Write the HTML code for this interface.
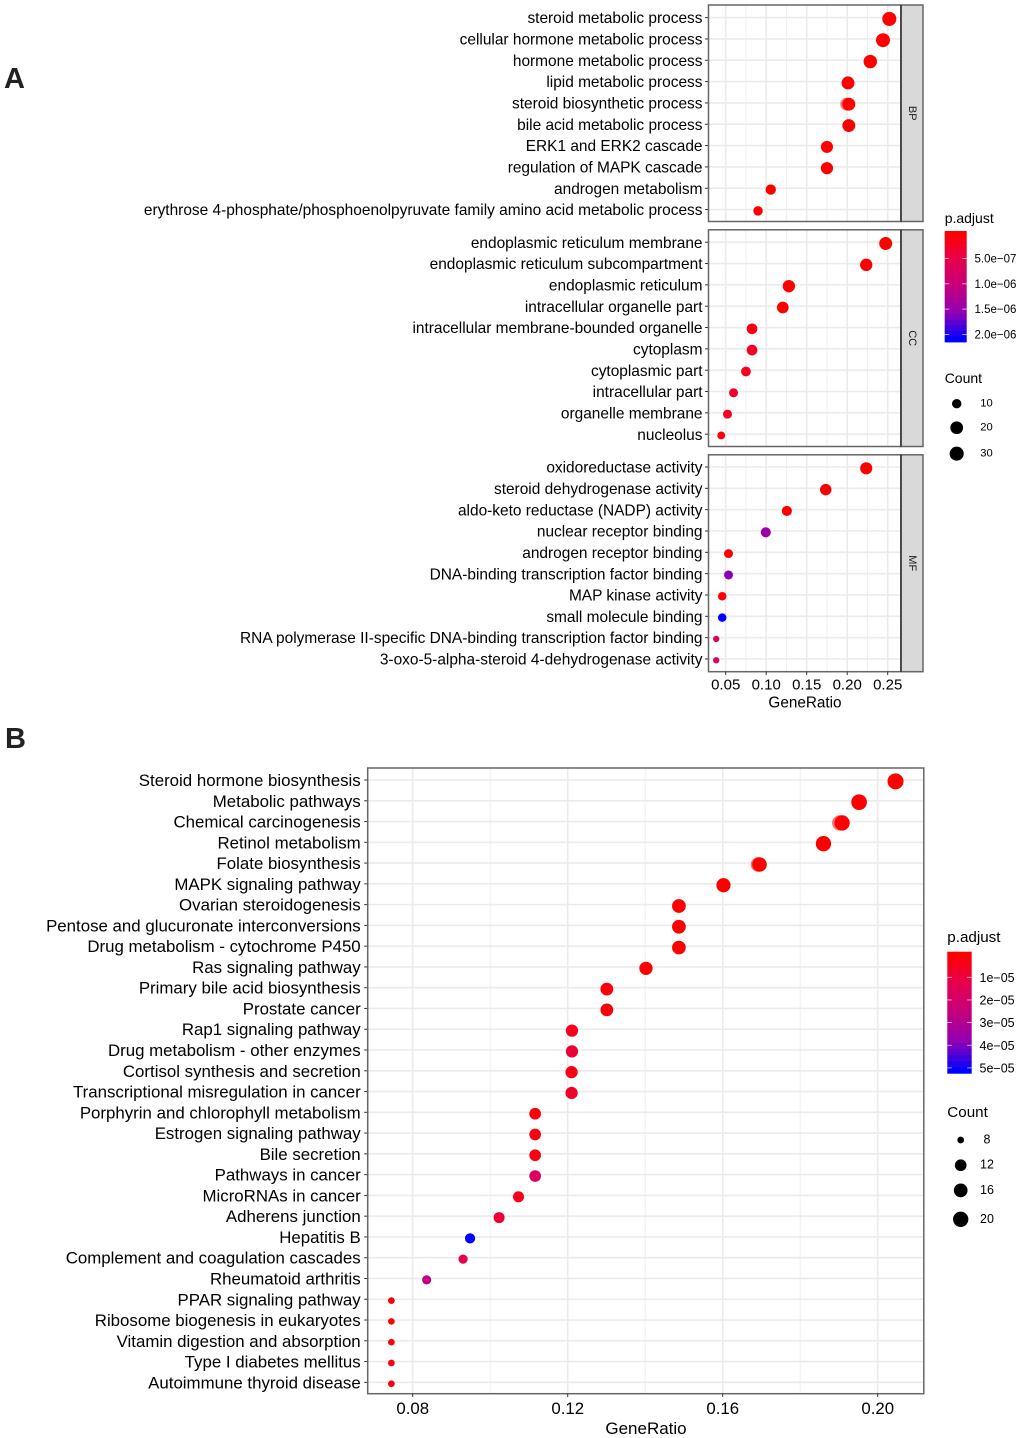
<!DOCTYPE html>
<html lang="en">
<head>
<meta charset="utf-8">
<title>GO and KEGG enrichment dot plots</title>
<style>
html,body{margin:0;padding:0;background:#fff}
svg{display:block;font-family:"Liberation Sans",Arial,sans-serif}
</style>
</head>
<body>
<svg id="figure" xmlns="http://www.w3.org/2000/svg" width="1020" height="1438" viewBox="0 0 1020 1438">
<text x="4" y="88" font-size="29" font-weight="bold" fill="#222">A</text>
<text x="5" y="748" font-size="29" font-weight="bold" fill="#222">B</text>
</svg>
<script>
// ---- Panel A data ----
const bpTerms = ["steroid metabolic process","cellular hormone metabolic process","hormone metabolic process","lipid metabolic process","steroid biosynthetic process","bile acid metabolic process","ERK1 and ERK2 cascade","regulation of MAPK cascade","androgen metabolism","erythrose 4-phosphate/phosphoenolpyruvate family amino acid metabolic process"];
const bpRatio = [0.252,0.2442,0.2285,0.201,0.202,0.202,0.175,0.175,0.1056,0.0899];
const bpCount = [30,29,26,23,23,23,19,19,12,9];
const bpPadj = [0,0,0,0,0,0,0,0,0,0];
const bpEcho = [null,null,null,null,0.1994,null,null,null,null,null];

const ccTerms = ["endoplasmic reticulum membrane","endoplasmic reticulum subcompartment","endoplasmic reticulum","intracellular organelle part","intracellular membrane-bounded organelle","cytoplasm","cytoplasmic part","intracellular part","organelle membrane","nucleolus"];
const ccRatio = [0.2475,0.2235,0.128,0.1205,0.0825,0.0825,0.075,0.0597,0.0522,0.0445];
const ccCount = [23,20,20,17,13,13,10,8,8,6];
const ccPadj = [0,0,0,0,1e-7,2.5e-7,2e-7,3e-7,2.5e-7,1e-7];
const ccEcho = [null,null,null,null,null,null,null,null,null,null];

const mfTerms = ["oxidoreductase activity","steroid dehydrogenase activity","aldo-keto reductase (NADP) activity","nuclear receptor binding","androgen receptor binding","DNA-binding transcription factor binding","MAP kinase activity","small molecule binding","RNA polymerase II-specific DNA-binding transcription factor binding","3-oxo-5-alpha-steroid 4-dehydrogenase activity"];
const mfRatio = [0.2235,0.1735,0.1255,0.0995,0.0535,0.0535,0.0457,0.0457,0.0383,0.0383];
const mfCount = [19,16,11,11,8,8,7,7,5,5];
const mfPadj = [0,0,0,1.5e-6,1e-8,1.65e-6,1e-8,2.15e-6,6.4e-7,8e-7];
const mfEcho = [null,null,null,null,null,null,null,null,null,null];

const aXTicks = [0.05,0.10,0.15,0.20,0.25];
const aXMinor = [0.075,0.125,0.175,0.225];
const aColorTicks = [5e-7,1e-6,1.5e-6,2e-6];
const aColorLabels = ["5.0e\u221207","1.0e\u221206","1.5e\u221206","2.0e\u221206"];
const aSizeTicks = [10,20,30];

// ---- Panel B data ----
const keggTerms = ["Steroid hormone biosynthesis","Metabolic pathways","Chemical carcinogenesis","Retinol metabolism","Folate biosynthesis","MAPK signaling pathway","Ovarian steroidogenesis","Pentose and glucuronate interconversions","Drug metabolism - cytochrome P450","Ras signaling pathway","Primary bile acid biosynthesis","Prostate cancer","Rap1 signaling pathway","Drug metabolism - other enzymes","Cortisol synthesis and secretion","Transcriptional misregulation in cancer","Porphyrin and chlorophyll metabolism","Estrogen signaling pathway","Bile secretion","Pathways in cancer","MicroRNAs in cancer","Adherens junction","Hepatitis B","Complement and coagulation cascades","Rheumatoid arthritis","PPAR signaling pathway","Ribosome biogenesis in eukaryotes","Vitamin digestion and absorption","Type I diabetes mellitus","Autoimmune thyroid disease"];
const keggRatio = [0.2046,0.1952,0.1908,0.186,0.1695,0.1602,0.1487,0.1487,0.1487,0.1402,0.1301,0.1301,0.1211,0.1211,0.121,0.121,0.1116,0.1116,0.1116,0.1116,0.1073,0.1023,0.0948,0.093,0.0836,0.0745,0.0745,0.0745,0.0745,0.0745];
const keggCount = [22,21,20,20,18,17,16,16,16,15,14,14,13,13,13,13,12,12,12,12,11,11,10,9,9,8,8,8,8,8];
const keggPadj = [0,0,1e-6,1e-7,2e-7,0,0,0,0,1e-6,2e-6,2e-6,5e-6,9e-6,4e-6,7e-6,2e-6,3e-6,3e-6,1.8e-5,5e-6,9e-6,5.3e-5,1.2e-5,2.7e-5,1e-6,1e-6,1e-6,1e-6,1e-6];
const keggEcho = [null,null,0.1902,null,0.1691,null,null,null,null,null,null,null,null,null,null,null,null,null,null,null,null,null,null,null,null,null,null,null,null,null];

const bXTicks = [0.08,0.12,0.16,0.20];
const bXMinor = [0.10,0.14,0.18];
const bXTickLabels = ["0.08","0.12","0.16","0.20"];
const bColorTicks = [1e-5,2e-5,3e-5,4e-5,5e-5];
const bColorLabels = ["1e\u221205","2e\u221205","3e\u221205","4e\u221205","5e\u221205"];
const bSizeTicks = [8,12,16,20];

// ---- Colour ramp (red to blue, Lab-like) ----
const rampStops = [[255,0,0],[230,0,79],[195,0,125],[146,0,179],[0,0,255]];

const NS = "http://www.w3.org/2000/svg";
const svg = document.getElementById("figure");
function make(tag, attrs, parent){
  const n = document.createElementNS(NS, tag);
  for (const k in attrs) n.setAttribute(k, attrs[k]);
  (parent || svg).appendChild(n);
  return n;
}
function ramp(t){
  t = Math.max(0, Math.min(1, t));
  const f = t * (rampStops.length - 1);
  const i = Math.min(rampStops.length - 2, Math.floor(f));
  const u = f - i;
  const c = [0,1,2].map(j => Math.round(rampStops[i][j] + (rampStops[i+1][j] - rampStops[i][j]) * u));
  return "rgb(" + c.join(",") + ")";
}

// ---- Axis functions ----
const aX = v => 725.7 + (v - 0.05) * 810;
const bX = v => 412.7 + (v - 0.08) * 3875;
const aDia = c => 6.3 + 8.1 * Math.sqrt(Math.max(0, c - 5) / 27);
const bDia = c => 6.7 + 9.3 * Math.sqrt(Math.max(0, c - 8) / 14);
const aPMax = 2.15e-6;
const bPMax = 5.3e-5;

function drawPanel(cfg){
  const g = make("g", {});
  
  
  const bg = make("rect", {x:cfg.x0, y:cfg.y0, width:cfg.x1-cfg.x0, height:cfg.y1-cfg.y0, fill:"#fff"}, g);
  
  
  cfg.xMinor.forEach(v => {
    const l = make("line", {x1:cfg.xFn(v), x2:cfg.xFn(v), y1:cfg.y0, y2:cfg.y1, stroke:"#efefef", "stroke-width":1}, g);
    
    
  });
  cfg.xTicks.forEach(v => {
    const l = make("line", {x1:cfg.xFn(v), x2:cfg.xFn(v), y1:cfg.y0, y2:cfg.y1, stroke:"#ebebeb", "stroke-width":1.6}, g);
    
    
  });
  const yAt = i => cfg.yFirst + i * cfg.yStep;
  cfg.terms.forEach((term, i) => {
    const y = yAt(i);
    const grid = make("line", {x1:cfg.x0, x2:cfg.x1, y1:y, y2:y, stroke:"#ebebeb", "stroke-width":1.6}, g);
    
    
    const tick = make("line", {x1:cfg.x0-3.5, x2:cfg.x0, y1:y, y2:y, stroke:"#333", "stroke-width":1}, g);
    
    
    const label = make("text", {x:cfg.x0-cfg.labelGap, y:y+cfg.labelDy, "text-anchor":"end", "font-size":cfg.labelSize, fill:"#000"}, g);
    
    
    label.textContent = term;
  });
  cfg.terms.forEach((term, i) => {
    if (cfg.echo[i] !== null){
      const echo = make("circle", {cx:cfg.xFn(cfg.echo[i]), cy:yAt(i)+cfg.dotDy, r:cfg.dia(cfg.count[i])/2, fill:ramp(cfg.padj[i]/cfg.pMax), "fill-opacity":0.55}, g);
      
      
    }
    const dot = make("circle", {cx:cfg.xFn(cfg.ratio[i]), cy:yAt(i)+cfg.dotDy, r:cfg.dia(cfg.count[i])/2, fill:ramp(cfg.padj[i]/cfg.pMax)}, g);
    
    
  });
  const frame = make("rect", {x:cfg.x0, y:cfg.y0, width:cfg.x1-cfg.x0, height:cfg.y1-cfg.y0, fill:"none", stroke:"#666", "stroke-width":1.5}, g);
  
  
  if (cfg.strip){
    const s = make("rect", {x:cfg.x1, y:cfg.y0, width:22, height:cfg.y1-cfg.y0, fill:"#d9d9d9", stroke:"#666", "stroke-width":1.5}, g);
    
    
    const edge = make("line", {x1:cfg.x1, x2:cfg.x1, y1:cfg.y0, y2:cfg.y1, stroke:"#222", "stroke-width":1.3}, g);
    
    
    const cy = (cfg.y0 + cfg.y1) / 2;
    const t = make("text", {x:cfg.x1+11, y:cy, "text-anchor":"middle", "dominant-baseline":"central", "font-size":11, fill:"#1a1a1a", transform:"rotate(90 "+(cfg.x1+11)+" "+cy+")"}, g);
    
    
    t.textContent = cfg.strip;
  }
}

const commonA = {x0:708.5, x1:901, xFn:aX, xTicks:aXTicks, xMinor:aXMinor, yStep:21.33, dia:aDia, pMax:aPMax, labelSize:15.45, labelGap:6, labelDy:5.6, dotDy:1.3};
drawPanel(Object.assign({}, commonA, {name:"bp-panel", strip:"BP", y0:5, y1:221.5, yFirst:17.6, terms:bpTerms, ratio:bpRatio, count:bpCount, padj:bpPadj, echo:bpEcho}));
drawPanel(Object.assign({}, commonA, {name:"cc-panel", strip:"CC", y0:229.8, y1:446.5, yFirst:242.2, terms:ccTerms, ratio:ccRatio, count:ccCount, padj:ccPadj, echo:ccEcho}));
drawPanel(Object.assign({}, commonA, {name:"mf-panel", strip:"MF", y0:454.8, y1:671.7, yFirst:467, terms:mfTerms, ratio:mfRatio, count:mfCount, padj:mfPadj, echo:mfEcho}));

drawPanel({name:"kegg-panel", x0:367.7, x1:923.8, y0:768, y1:1393.7, xFn:bX, xTicks:bXTicks, xMinor:bXMinor, yFirst:780, yStep:20.77, terms:keggTerms, ratio:keggRatio, count:keggCount, padj:keggPadj, echo:keggEcho, dia:bDia, pMax:bPMax, labelSize:16.85, labelGap:7, labelDy:6, dotDy:1.4});

// x axes
aXTicks.forEach(v => {
  const tk = make("line", {x1:aX(v), x2:aX(v), y1:671.7, y2:675, stroke:"#333", "stroke-width":1});
  
  
  const t = make("text", {x:aX(v), y:689.5, "text-anchor":"middle", "font-size":15, fill:"#000"});
  
  
  t.textContent = v.toFixed(2);
});
bXTicks.forEach((v, i) => {
  const tk = make("line", {x1:bX(v), x2:bX(v), y1:1393.7, y2:1397, stroke:"#333", "stroke-width":1});
  
  
  const t = make("text", {x:bX(v), y:1414, "text-anchor":"middle", "font-size":16.8, fill:"#000"});
  
  
  t.textContent = bXTickLabels[i];
});
const aTitle = make("text", {x:805, y:707.5, "text-anchor":"middle", "font-size":15.3, fill:"#000"});


aTitle.textContent = "GeneRatio";
const bTitle = make("text", {x:646, y:1434, "text-anchor":"middle", "font-size":17, fill:"#000"});


bTitle.textContent = "GeneRatio";

// legends
function drawLegend(cfg){
  const title = make("text", {x:cfg.barX, y:cfg.titleY, "font-size":cfg.titleSize, fill:"#000"});
  
  
  title.textContent = "p.adjust";
  const bins = 20;
  for (let b = 0; b < bins; b++){
    const h = (cfg.barBottom - cfg.barTop) / bins;
    const band = make("rect", {x:cfg.barX, y:cfg.barTop + b*h, width:cfg.barW, height:h+0.4, fill:ramp(b/(bins-1))});
    
    
  }
  cfg.colorTicks.forEach((p, i) => {
    const y = cfg.colorY(p);
    [[cfg.barX, cfg.barX+4.5],[cfg.barX+cfg.barW-4.5, cfg.barX+cfg.barW]].forEach(seg => {
      const m = make("line", {x1:seg[0], x2:seg[1], y1:y, y2:y, stroke:"#fff", "stroke-opacity":0.8, "stroke-width":0.8});
      
      
    });
    const t = make("text", {x:cfg.colorLabelX, y:y+cfg.tickSize*0.36, "font-size":cfg.tickSize, fill:"#000"});
    
    
    t.textContent = cfg.colorLabels[i];
  });
  const ct = make("text", {x:cfg.barX, y:cfg.countY, "font-size":cfg.titleSize, fill:"#000"});
  
  
  ct.textContent = "Count";
  cfg.sizeTicks.forEach((c, i) => {
    const y = cfg.sizeY(i);
    const d = make("circle", {cx:cfg.sizeX, cy:y, r:cfg.dia(c)/2, fill:"#000"});
    
    
    const t = make("text", {x:cfg.sizeLabelX, y:y-1+cfg.sizeFont*0.36, "text-anchor":"middle", "font-size":cfg.sizeFont, fill:"#000"});
    
    
    t.textContent = String(c);
  });
}
drawLegend({barX:944.7, barW:22, barTop:231, barBottom:342, titleY:223, titleSize:14, colorTicks:aColorTicks, colorLabels:aColorLabels, colorY:p => 258.5 + (p-5e-7)/5e-7*25.3, colorLabelX:974.5, tickSize:11.5, countY:383, sizeTicks:aSizeTicks, sizeX:956.7, sizeY:i => 403.7 + i*24 + (i>1?2:0), dia:c => 9.4 + 4.7*Math.sqrt((c-10)/20), sizeLabelX:986.5, sizeFont:11.2});
drawLegend({barX:947.3, barW:24.4, barTop:951.7, barBottom:1073.3, titleY:942, titleSize:15.2, colorTicks:bColorTicks, colorLabels:bColorLabels, colorY:p => 977.3 + (p-1e-5)/1e-5*22.65, colorLabelX:979.5, tickSize:12.5, countY:1117, sizeTicks:bSizeTicks, sizeX:960.7, sizeY:i => 1140 + i*25.2 + (i>2?3.7:0), dia:bDia, sizeLabelX:987, sizeFont:12.5});
</script>
</body>
</html>
